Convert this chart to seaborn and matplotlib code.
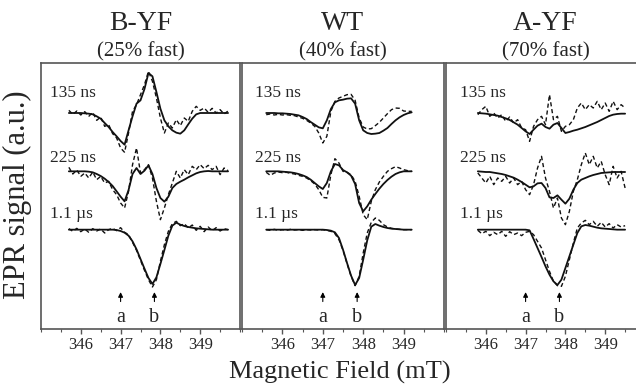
import numpy as np
import pandas as pd
import matplotlib
matplotlib.use("Agg")
import matplotlib.pyplot as plt
import matplotlib.ticker as mticker
import seaborn as sns

# field axes (mT), one per panel
FIELD_BYF = [345.7, 345.8, 345.9, 346.0, 346.1, 346.2, 346.3, 346.4, 346.5, 346.6,
             346.7, 346.8, 346.9, 347.0, 347.1, 347.2, 347.3, 347.4, 347.5, 347.6,
             347.7, 347.8, 347.9, 348.0, 348.1, 348.2, 348.3, 348.4, 348.5, 348.6,
             348.7, 348.8, 348.9, 349.0, 349.1, 349.2, 349.3, 349.4, 349.5, 349.6,
             349.7]
FIELD_WT = [345.6, 345.7, 345.8, 345.9, 346.0, 346.1, 346.2, 346.3, 346.4, 346.5,
            346.6, 346.7, 346.8, 346.9, 347.0, 347.1, 347.2, 347.3, 347.4, 347.5,
            347.6, 347.7, 347.8, 347.9, 348.0, 348.1, 348.2, 348.3, 348.4, 348.5,
            348.6, 348.7, 348.8, 348.9, 349.0, 349.1, 349.2]
FIELD_AYF = [345.8, 345.9, 346.0, 346.1, 346.2, 346.3, 346.4, 346.5, 346.6, 346.7,
             346.8, 346.9, 347.0, 347.1, 347.2, 347.3, 347.4, 347.5, 347.6, 347.7,
             347.8, 347.9, 348.0, 348.1, 348.2, 348.3, 348.4, 348.5, 348.6, 348.7,
             348.8, 348.9, 349.0, 349.1, 349.2, 349.3, 349.4, 349.5]

# B-YF: fit (solid) and experiment (dashed), a.u.
BYF_135_FIT = [0, 0, 0, 0, -1, -2, -4, -10, -17, -30, -42, -57, -70, -84, -95, -52, -10, 28, 38, 72,
               120, 110, 63, 13, -22, -40, -52, -59, -62, -52, -34, -17, -4, 0, 0, 0, 0, 0, 0, 0, 0]
BYF_135_EXP = [8, -4, 6, -6, 4, -10, 2, -22, -12, -40, -35, -62, -75, -105, -118, -60, 5, 25, 55, 85,
               125, 95, 45, -15, -60, -30, -45, -20, -38, -15, -25, 5, 20, 8, 15, 2, 14, 0, 10, -3, 6]
BYF_225_FIT = [0, 0, 0, 0, 0, -1, -3, -8, -14, -22, -32, -44, -60, -76, -90, -56, -8, 10, -8, 2,
               18, -8, -50, -80, -91, -76, -50, -38, -31, -25, -18, -12, -6, -2, 0, 1, 0, 0, 0, 0, 0]
BYF_225_EXP = [12, -8, 4, -15, -5, -20, -2, -25, -15, -35, -30, -55, -70, -95, -110, -60, 20, 70, -5, 5,
               20, -20, -90, -145, -110, -70, -35, 0, -20, 5, -10, 15, 5, 20, 8, 18, 5, 15, -10, 10, 2]
BYF_1US_FIT = [0, 0, 0, 0, 0, 0, 0, 0, 0, 0, 0, 0, -1, -4, -9, -18, -35, -59, -88, -117,
               -145, -163, -143, -103, -61, -18, 12, 21, 15, 11, 8, 6, 4, 3, 2, 1, 0, 0, 0, 0, 0]
BYF_1US_EXP = [3, -5, 4, -6, 2, -8, 3, -4, 2, -10, 0, 4, -3, 6, -8, -15, -38, -62, -92, -122,
               -150, -172, -150, -95, -45, -5, 18, 25, 12, 18, 5, 14, -2, 10, -6, 8, -3, 6, -4, 3, 0]

# WT
WT_135_FIT = [0, 0, 0, -1, -1, -2, -3, -5, -7, -12, -18, -27, -35, -43, -46, -22, 12, 32, 38, 40,
              43, 44, 28, -22, -52, -60, -63, -62, -60, -53, -45, -33, -22, -13, -6, -1, 2]
WT_135_EXP = [-5, -3, -6, -4, -6, -5, -7, -8, -12, -16, -22, -30, -40, -60, -90, -70, 5, 35, 45, 50,
              55, 56, 38, -15, -42, -48, -47, -38, -28, -15, -2, 10, 15, 14, 6, 5, 5]
WT_225_FIT = [0, 0, 0, 0, -1, -2, -3, -5, -8, -12, -17, -25, -35, -45, -53, -35, 0, 22, 18, 4,
              -3, -13, -38, -95, -120, -105, -85, -68, -52, -38, -26, -16, -8, -3, 0, 0, 0]
WT_225_EXP = [-3, -12, -5, -2, -4, -3, -6, -8, -12, -15, -20, -28, -38, -55, -78, -80, -10, 38, 25, 0,
              -3, -10, -30, -75, -130, -145, -90, -55, -32, -15, 0, 8, 14, 10, 5, 2, 0]
WT_1US_FIT = [0, 0, 0, 0, 0, 0, 0, 0, 0, 0, 0, 0, 0, 0, 0, -1, -3, -8, -25, -60,
              -100, -138, -166, -145, -90, -32, 9, 17, 12, 8, 5, 3, 2, 1, 0, 0, 0]
WT_1US_EXP = [0, -2, 1, -2, 0, -2, 1, -1, 0, -2, 0, -1, 0, -1, 0, -2, -5, -12, -30, -62,
              -102, -140, -168, -140, -70, -10, 22, 35, 28, 15, 8, 4, 2, 1, 0, 0, 0]

# A-YF
AYF_135_FIT = [0, -1, -2, -4, -6, -8, -12, -16, -21, -28, -35, -45, -55, -63, -50, -38, -32, -42, -47, -35,
               -30, -45, -60, -57, -53, -50, -46, -42, -37, -32, -27, -21, -15, -9, -5, -3, -2, -2]
AYF_135_EXP = [-5, 10, 20, -10, 0, -15, -5, -25, -12, -30, -20, -45, -50, -85, -40, -20, -10, -35, 55, -20,
               -10, -55, -40, -35, -20, 15, 30, 10, 25, 15, 35, 10, 30, 5, 35, 10, 25, 15]
AYF_225_FIT = [0, -1, -2, -2, -4, -6, -8, -11, -15, -19, -25, -32, -40, -48, -45, -36, -35, -50, -78, -80,
               -72, -85, -97, -82, -55, -35, -25, -20, -15, -11, -8, -5, -4, -3, -2, -2, -2, -2]
AYF_225_EXP = [-5, -20, -35, -15, -40, -20, -30, -15, -35, -20, -40, -30, -55, -70, -40, 10, 45, -20, -60, -110,
               -80, -140, -160, -120, -60, -25, 20, 55, 20, 45, 10, 30, -10, -40, 15, -20, 0, -50]
AYF_1US_FIT = [0, 0, 0, 0, 0, 0, 0, 0, 0, 0, 0, 0, 0, -2, -28, -55, -82, -110, -135, -155,
               -166, -150, -115, -80, -45, -10, 10, 14, 12, 9, 6, 4, 3, 2, 1, 0, 0, 0]
AYF_1US_EXP = [-2, -12, -5, -18, -8, -15, -5, -20, -6, -15, -10, -18, -8, -5, -15, -35, -55, -90, -125, -155,
               -168, -170, -140, -90, -40, 5, 20, 28, 15, 25, 10, 22, 8, 18, 5, 15, 8, 12]

TITLES = ["B-YF", "WT", "A-YF"]
SUBTITLES = ["(25% fast)", "(40% fast)", "(70% fast)"]
DELAYS = ["135 ns", "225 ns", "1.1 \u00b5s"]
TICKS = [346, 347, 348, 349]
MARKERS = [347.0, 347.85]
MARKER_LABELS = ["a", "b"]

panels = [
    (FIELD_BYF, [(BYF_135_FIT, BYF_135_EXP), (BYF_225_FIT, BYF_225_EXP), (BYF_1US_FIT, BYF_1US_EXP)]),
    (FIELD_WT, [(WT_135_FIT, WT_135_EXP), (WT_225_FIT, WT_225_EXP), (WT_1US_FIT, WT_1US_EXP)]),
    (FIELD_AYF, [(AYF_135_FIT, AYF_135_EXP), (AYF_225_FIT, AYF_225_EXP), (AYF_1US_FIT, AYF_1US_EXP)]),
]

# layout (pixels of a 636x384 canvas)
W, H = 636, 384
BOXES = [(41, 240), (242, 444), (446, 645)]
TOP, BOTTOM = 63, 329
OFFSETS = [-150, -325, -500]
LABEL_Y = [-90, -285, -453]
LABEL_X = [345.22, 345.32, 345.36]
FRAME = "#555555"

sns.set_theme(style="white")
plt.rcParams["font.family"] = ["Liberation Serif", "DejaVu Serif"]

fig = plt.figure(figsize=(W / 100, H / 100), dpi=100)

for i, (field, traces) in enumerate(panels):
    x0, x1 = BOXES[i]
    ax = fig.add_axes([x0 / W, 1 - BOTTOM / H, (x1 - x0) / W, (BOTTOM - TOP) / H])

    for j, (fit, exp) in enumerate(traces):
        df = pd.DataFrame({"field": field,
                           "fit": np.array(fit) + OFFSETS[j],
                           "exp": np.array(exp) + OFFSETS[j]})
        sns.lineplot(data=df, x="field", y="exp", ax=ax, color="#111111", lw=1.0,
                     linestyle=(0, (3, 2)), estimator=None, sort=False)
        sns.lineplot(data=df, x="field", y="fit", ax=ax, color="#111111", lw=1.3,
                     estimator=None, sort=False)
        ax.text(LABEL_X[i], LABEL_Y[j], DELAYS[j], fontsize=12.5, ha="left", va="center")

    for f, lab in zip(MARKERS, MARKER_LABELS):
        ax.annotate("", xy=(f, -679), xytext=(f, -724),
                    arrowprops=dict(arrowstyle="-|>", color="black", lw=0.8, mutation_scale=7))
        ax.text(f, -765, lab, fontsize=14.5, ha="center", va="center")

    ax.set_xlim(345, 350)
    ax.set_ylim(-798, 0)
    ax.set_yticks([])
    ax.set_xlabel("")
    ax.set_ylabel("")
    ax.xaxis.set_major_locator(mticker.FixedLocator(TICKS))
    ax.xaxis.set_minor_locator(mticker.MultipleLocator(0.5))
    ax.tick_params(axis="x", which="major", direction="out", length=3.5, width=1,
                   color=FRAME, labelsize=12, pad=2, bottom=True)
    ax.tick_params(axis="x", which="minor", direction="out", length=2.5, width=0.8,
                   color=FRAME, bottom=True)
    for s in ax.spines.values():
        s.set_color(FRAME)
        s.set_linewidth(1.2)

    ax.text(0.5, 1 + 39 / (BOTTOM - TOP), TITLES[i], transform=ax.transAxes,
            fontsize=20, ha="center", va="center")
    ax.text(0.5, 1 + 11 / (BOTTOM - TOP), SUBTITLES[i], transform=ax.transAxes,
            fontsize=15, ha="center", va="center")

fig.text(17 / W, 1 - 195 / H, "EPR signal (a.u.)", rotation=90, fontsize=22,
         ha="center", va="center")
fig.text(340 / W, 1 - 372 / H, "Magnetic Field (mT)", fontsize=19,
         ha="center", va="center")

fig.savefig("out.png", dpi=100)
